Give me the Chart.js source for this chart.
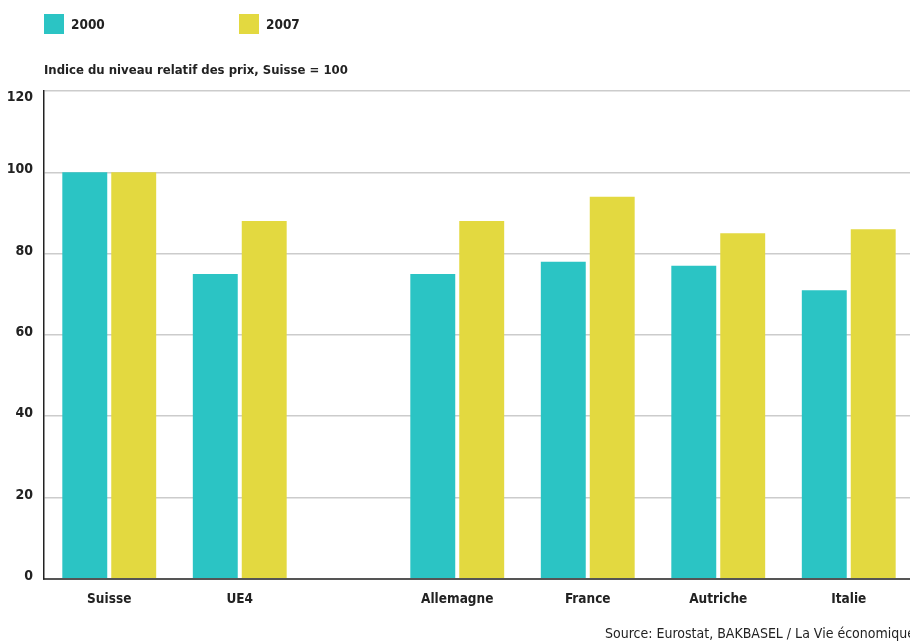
<!DOCTYPE html>
<html>
<head>
<meta charset="utf-8">
<script src="https://cdn.jsdelivr.net/npm/chart.js@4.4.0/dist/chart.umd.min.js"></script>
<style>
  html, body { margin: 0; padding: 0; background: #fff; overflow: hidden; }
  #wrap { position: relative; width: 910px; height: 642px; overflow: hidden; color: #222; font-family: "DejaVu Sans Condensed", "DejaVu Sans", sans-serif; }
  #chart { position: absolute; left: 0; top: 0; }
  .legend { position: absolute; top: 14px; font-weight: bold; font-size: 13.5px; line-height: 20px; }
  .legend span.box { display: inline-block; width: 20px; height: 20px; vertical-align: top; margin-right: 7px; }
  #subtitle { position: absolute; left: 44px; top: 62px; font-weight: bold; font-size: 13px; }
  #source { position: absolute; left: 605px; top: 625px; font-size: 14px; white-space: nowrap; }
</style>
</head>
<body>
<div id="wrap">
  <canvas id="chart" width="914" height="642"></canvas>
  <div class="legend" style="left:44px"><span class="box" style="background:#2bc4c4"></span>2000</div>
  <div class="legend" style="left:239px"><span class="box" style="background:#e3d940"></span>2007</div>
  <div id="subtitle">Indice du niveau relatif des prix, Suisse = 100</div>
  <div id="source">Source: Eurostat, BAKBASEL / La Vie économique</div>
</div>
<script>
// data
const categories = ['Suisse', 'UE4', 'Allemagne', 'France', 'Autriche', 'Italie'];
const values2000 = [100, 75, 75, 78, 77, 71];
const values2007 = [100, 88, 88, 94, 85, 86];
const yTicks = [0, 20, 40, 60, 80, 100, 120];

const fontFamily = '"DejaVu Sans Condensed", "DejaVu Sans", sans-serif';

// the x axis is cut into narrow slots so the gap after UE4 can be wider
// than a normal step; each country sits on one slot
const slotCount = 20;
const slotOf = i => 1 + i * 3 + (i >= 2 ? 2 : 0);

const labels = new Array(slotCount).fill('');
const data2000 = new Array(slotCount).fill(null);
const data2007 = new Array(slotCount).fill(null);
categories.forEach((c, i) => {
  const s = slotOf(i);
  labels[s] = c;
  data2000[s] = values2000[i];
  data2007[s] = values2007[i];
});

// y labels sit on top of their grid line, the top one just under it
const yLabels = {
  id: 'yLabels',
  afterDraw(chart) {
    const scale = chart.scales.y;
    const ctx = chart.ctx;
    ctx.save();
    ctx.font = 'bold 14px ' + fontFamily;
    ctx.fillStyle = '#222';
    ctx.textAlign = 'right';
    ctx.textBaseline = 'alphabetic';
    yTicks.forEach(v => {
      const y = scale.getPixelForValue(v);
      ctx.fillText(String(v), 33, v === scale.max ? y + 10 : y + 1);
    });
    ctx.restore();
  }
};

new Chart(document.getElementById('chart'), {
  type: 'bar',
  data: {
    labels: labels,
    datasets: [
      { label: '2000', data: data2000, backgroundColor: '#2bc4c4' },
      { label: '2007', data: data2007, backgroundColor: '#e3d940' }
    ]
  },
  plugins: [yLabels],
  options: {
    responsive: false,
    animation: false,
    categoryPercentage: 2.25,
    barPercentage: 0.918,
    layout: { padding: { top: 91, bottom: 21, left: 0, right: 0 } },
    plugins: {
      legend: { display: false },
      tooltip: { enabled: false }
    },
    scales: {
      x: {
        grid: { display: false, drawTicks: false },
        border: { display: true, color: '#555', width: 2 },
        ticks: {
          autoSkip: false,
          maxRotation: 0,
          padding: 13,
          color: '#222',
          font: { family: fontFamily, size: 13.5, weight: 'bold' }
        }
      },
      y: {
        min: 0,
        max: 120,
        afterBuildTicks: scale => { scale.ticks = yTicks.map(v => ({ value: v })); },
        afterFit: scale => { scale.width = 44; },
        grid: { color: '#cccccc', lineWidth: 1.5, drawTicks: false },
        border: { display: true, color: '#222', width: 1.5 },
        ticks: { display: false }
      }
    }
  }
});
</script>
</body>
</html>
